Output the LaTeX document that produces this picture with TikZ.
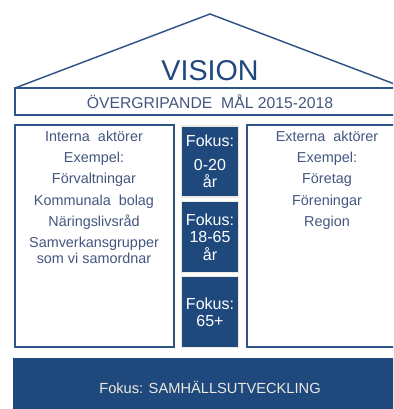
\documentclass[tikz,border=0pt]{standalone}
\usepackage{fontspec}
\setmainfont{Liberation Sans}
\usepackage{tikz}
\usetikzlibrary{positioning}
\definecolor{husbla}{RGB}{31,73,125}
\definecolor{kant}{RGB}{47,84,136}
\definecolor{grabla}{RGB}{68,86,126}
\definecolor{beige}{RGB}{236,233,224}

\begin{document}
\begin{tikzpicture}[x=0.75pt, y=-0.75pt,
	ram/.style={draw=kant, line width=1.5pt},
	aktor/.style={anchor=north, inner sep=0pt, align=center, text=grabla, font=\fontsize{10.8}{16}\selectfont},
	fokus/.style={draw=beige, line width=1.2pt, fill=husbla, text=white, align=center, minimum width=42pt, minimum height=53pt, font=\fontsize{12}{13}\selectfont}]
	\useasboundingbox (0,0) rectangle (393,409);
	\clip (0,0) rectangle (393,409);
	\draw[kant, line width=1.1pt] (15,88) -- (210,14) -- (405,88);
	\draw[ram] (15,88) rectangle (410,115);
	\draw[ram] (15,125) rectangle (174,347);
	\draw[ram] (247,125) rectangle (410,347);
	\fill[husbla] (13,358) rectangle (410,420);
	\node [text=husbla, font=\fontsize{21.5}{22}\selectfont] (vision) at (210,71) {VISION};
	\node [text=grabla, font=\fontsize{11.8}{12}\selectfont] (mal) at (210,102) {ÖVERGRIPANDE\ \ MÅL 2015-2018};
	\node [aktor] (interna) at (94,130.5) {Interna\ \ aktörer\\Exempel:\\Förvaltningar\\Kommunala\ \ bolag\\Näringslivsråd\\Samverkansgrupper\\[-4pt]som vi samordnar};
	\node [aktor] (externa) at (327,130.5) {Externa\ \ aktörer\\Exempel:\\Företag\\Föreningar\\Region};
	\node [fokus] (barn) at (210,161.5) {Fokus:\\[4.5pt]0-20\\år};
	\node [fokus] (vuxna) at (210,237) {Fokus:\\18-65\\år};
	\node [fokus] (aldre) at (210,312) {Fokus:\\65+};
	\node [text=beige, font=\fontsize{11}{12}\selectfont] (samhalle) at (210,387) {Fokus: SAMHÄLLSUTVECKLING};
\end{tikzpicture}
\end{document}
